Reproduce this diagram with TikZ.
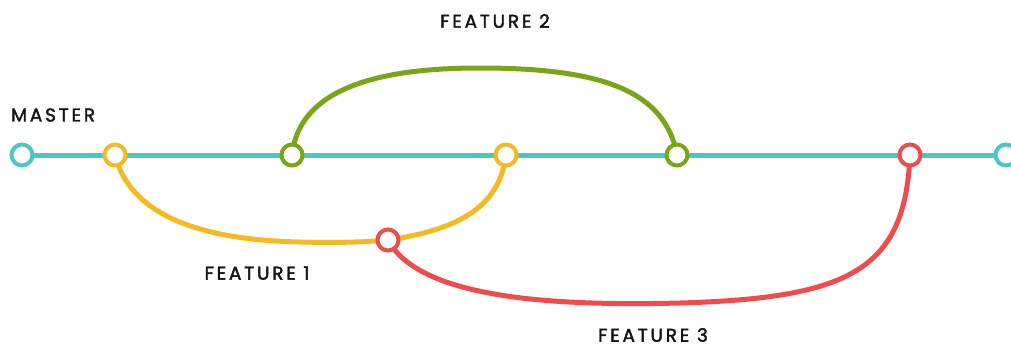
\documentclass[tikz,border=0pt]{standalone}
\usepackage{fontspec}
\setmainfont{Poppins}
\newfontfamily\labfont{Poppins}[LetterSpace=15, FakeBold=2]
\usetikzlibrary{backgrounds}
\definecolor{cteal}{HTML}{4CC6C6}
\definecolor{cyellow}{HTML}{F6B920}
\definecolor{cgreen}{HTML}{7AA517}
\definecolor{cred}{HTML}{F04C4C}
\tikzset{
  commit/.style={circle, draw=#1, line width=4pt, fill=white, minimum size=21pt, inner sep=0pt},
  branch/.style={draw=#1, line width=5pt},
  lab/.style={font=\labfont\fontsize{18.5}{18.5}\selectfont, inner sep=0pt, text=black!92}
}
\begin{document}
\begin{tikzpicture}[x=1pt,y=-1pt]
\useasboundingbox (0,0) rectangle (1011,349);
\node[commit=cteal] (m0) at (22,155) {};
\node[commit=cyellow] (y1) at (115,155) {};
\node[commit=cgreen] (g1) at (292,155) {};
\node[commit=cyellow] (y2) at (506,155) {};
\node[commit=cgreen] (g2) at (677,155) {};
\node[commit=cred] (r2) at (910,155) {};
\node[commit=cteal] (m1) at (1006,155) {};
\node[commit=cred] (r1) at (388,240) {};
\node[lab, anchor=west] (lmaster) at (11,115) {MASTER};
\node[lab] (lf2) at (495,21) {FEATURE 2};
\node[lab] (lf1) at (257,273) {FEATURE 1};
\node[lab] (lf3) at (653,335) {FEATURE 3};
\begin{scope}[on background layer]
\draw[branch=cteal] (m0.center) -- (m1.center);
\draw[branch=cyellow] (y1.center) .. controls (130,215) and (200,240) .. (300,242)
   .. controls (340,243) and (365,242) .. (r1.center)
   .. controls (470,228) and (500,200) .. (y2.center);
\draw[branch=cred] (r1.center) .. controls (420,300) and (560,306) .. (680,303)
   .. controls (850,298) and (905,270) .. (r2.center);
\draw[branch=cgreen] (g1.center) .. controls (300,80) and (400,68) .. (480,68)
   .. controls (600,68) and (665,90) .. (g2.center);
\end{scope}
\end{tikzpicture}
\end{document}
